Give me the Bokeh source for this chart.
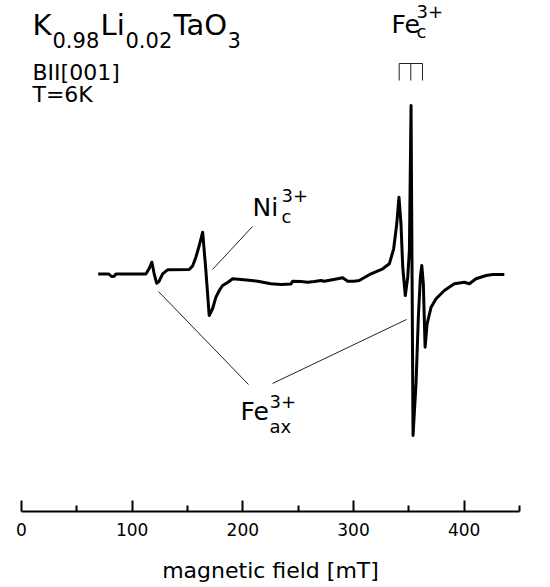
from bokeh.plotting import figure
from bokeh.models import Range1d, FixedTicker, LinearAxis
from bokeh.core.properties import value
from bokeh.embed import file_html
from bokeh.resources import INLINE

# EPR spectrum of K0.98Li0.02TaO3, B || [001], T = 6 K
field_mT = [69.3, 78.9, 81.4, 83.7, 85.3, 112.4, 115.4, 117.8, 119.9, 122.1,
            124.4, 127.5, 132.0, 151.5, 154.6, 157.6, 160.6, 163.7, 166.6, 169.6,
            172.7, 175.7, 178.7, 181.7, 186.3, 190.8, 201.0, 213.4, 225.4, 234.4,
            243.5, 245.0, 252.5, 258.6, 264.6, 270.6, 273.6, 279.7, 285.7, 290.2,
            294.8, 300.5, 305.2, 315.8, 326.4, 332.4, 336.3, 339.1, 341.1, 342.9,
            344.5, 346.8, 349.0, 350.5, 352.0, 353.8, 356.5, 358.6, 360.4, 361.7,
            363.1, 364.7, 366.5, 370.1, 374.6, 382.1, 391.1, 400.2, 404.7, 410.7,
            419.8, 425.9, 436.3]
signal = [-0.5, -0.5, -3.0, -2.7, -0.5, -0.5, 5.0, 11.3, -0.3, -9.7,
          -7.7, -0.3, 3.7, 4.0, 7.5, 16.3, 28.0, 41.3, 3.0, -42.0,
          -35.0, -23.7, -17.0, -12.0, -9.0, -5.3, -6.3, -7.7, -10.3, -11.0,
          -10.5, -7.7, -8.0, -8.7, -8.0, -7.0, -7.7, -6.5, -5.3, -4.3,
          -7.7, -7.7, -7.0, -0.3, 4.7, 9.7, 24.7, 49.7, 76.3, 49.7,
          6.3, -22.0, -3.7, 23.0, 168.0, -162.0, -110.0, -43.7, -3.7, 8.0,
          -10.3, -73.7, -50.3, -33.7, -25.3, -17.0, -10.3, -8.7, -10.3, -5.3,
          -2.0, -1.0, -1.0]

major_ticks = [0, 100, 200, 300, 400]
minor_ticks = [50, 150, 250, 350, 450]
x_label = "magnetic field [mT]"

FONT = "DejaVu Sans"

p = figure(width=550, height=587, output_backend="svg", toolbar_location=None,
           x_range=Range1d(0, 450), y_range=Range1d(-238, 273),
           min_border_left=21, min_border_right=31, min_border_top=0,
           min_border_bottom=76, x_axis_location=None, y_axis_location=None)
p.frame_height = 511
p.frame_width = 498
p.grid.visible = False
p.outline_line_color = None
p.background_fill_color = "white"
p.border_fill_color = "white"

ax = LinearAxis(ticker=FixedTicker(ticks=major_ticks, minor_ticks=minor_ticks))
ax.axis_label = x_label
ax.axis_label_text_font = FONT
ax.axis_label_text_font_size = "22px"
ax.axis_label_text_font_style = "normal"
ax.axis_label_text_color = "black"
ax.axis_label_standoff = 19
ax.major_label_text_font = FONT
ax.major_label_text_font_size = "17px"
ax.major_label_text_color = "black"
ax.major_label_standoff = 11
ax.major_tick_in = 11
ax.major_tick_out = 0
ax.minor_tick_in = 6
ax.minor_tick_out = 0
ax.axis_line_width = 2
ax.major_tick_line_width = 2
ax.minor_tick_line_width = 2
ax.axis_line_color = "black"
ax.major_tick_line_color = "black"
ax.minor_tick_line_color = "black"
p.add_layout(ax, "below")

p.line(field_mT, signal, line_color="black", line_width=3, line_join="round")


# annotation helpers: page pixel -> data coords
def bx(x):
    return (x - 21) / 1.1067


def sy(y):
    return 273 - y


# leader lines
leaders = [((252, 226), (212, 269)), ((158, 291), (248, 384)), ((272, 383), (406, 319))]
for (x0, y0), (x1, y1) in leaders:
    p.segment(bx(x0), sy(y0), bx(x1), sy(y1), line_color="#222222", line_width=1)

# Fe_c comb
comb = [398.7, 410.3, 422]
p.segment(bx(comb[0]), sy(63), bx(comb[-1]), sy(63), line_color="#222222", line_width=1)
for cx in comb:
    p.segment(bx(cx), sy(63), bx(cx), sy(80), line_color="#222222", line_width=1)


def lab(text, x, y, size):
    # y is the wanted baseline (page px); renderer places text ~0.35 em lower
    p.text(x=[bx(x)], y=[sy(y - 0.35 * size)], text=[text], text_font=value(FONT),
           text_font_size=f"{size}px", text_color="black",
           text_baseline="alphabetic", text_align="left")


# title
lab("K", 32, 35, 29)
lab("0.98", 52, 47, 21)
lab("Li", 100, 35, 29)
lab("0.02", 125, 47, 21)
lab("TaO", 173, 35, 29)
lab("3", 227, 47, 21)
lab("BII[001]", 32, 80, 22)
lab("T=6K", 32, 102, 22)

# species labels
lab("Fe", 391, 33, 25)
lab("3+", 416, 17, 18)
lab("c", 416, 37, 18)

lab("Ni", 252, 216, 25)
lab("3+", 281, 201, 18)
lab("c", 281, 222, 18)

lab("Fe", 240, 420, 25)
lab("3+", 269, 407, 18)
lab("ax", 269, 432, 18)

open("out.html", "w").write(file_html(p, INLINE))
